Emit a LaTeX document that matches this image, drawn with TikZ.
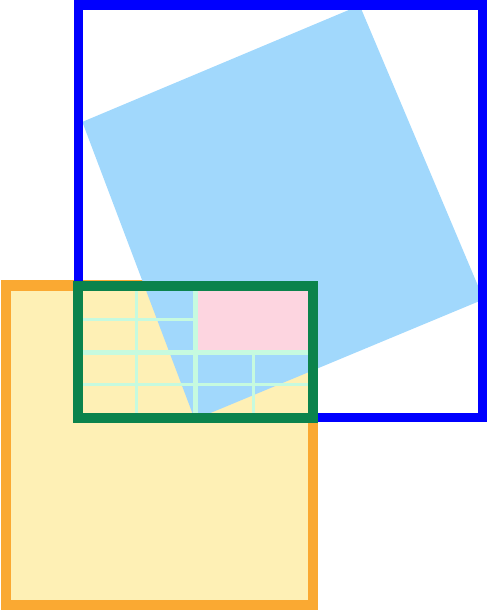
\documentclass[tikz,border=0pt]{standalone}
\begin{document}
\definecolor{cblue}{HTML}{0000FF}
\definecolor{clight}{HTML}{A1D8FC}
\definecolor{corange}{HTML}{FAA932}
\definecolor{cyellow}{HTML}{FEF0B5}
\definecolor{cgreen}{HTML}{0B834C}
\definecolor{cpink}{HTML}{FDD5E0}
\definecolor{cmint}{HTML}{C6FADF}
\begin{tikzpicture}[x=1pt,y=-1pt,
  thinmint/.style={draw=cmint,line width=2.5pt},
  thickmint/.style={draw=cmint,line width=5.2pt}]
\useasboundingbox (0,0) rectangle (487,610);
% orange square
\draw[corange,fill=cyellow,line width=10.5pt] (6.2,285.3) rectangle (312.8,604.8);
% rotated light blue square
\fill[clight] (82.3,121.9) -- (359.7,5.4) -- (483.7,299.3) -- (194.8,419.5) -- cycle;
% blue frame
\draw[cblue,line width=9.6pt] (78.3,5.3) rectangle (482.3,417.6);
% pink cell
\fill[cpink] (197.8,290.7) rectangle (307.5,349.8);
% grid lines
\draw[thinmint] (136.7,290.7) -- (136.7,412.5);
\draw[thinmint] (253.7,352.2) -- (253.7,412.5);
\draw[thinmint] (83,319.3) -- (195.3,319.3);
\draw[thinmint] (83,384.3) -- (307.5,384.3);
\draw[thickmint] (83,352.2) -- (307.5,352.2);
\draw[thickmint] (195.3,290.7) -- (195.3,412.5);
% green frame
\draw[cgreen,line width=10.5pt] (78.2,286.2) rectangle (312.8,417.8);
\end{tikzpicture}
\end{document}
